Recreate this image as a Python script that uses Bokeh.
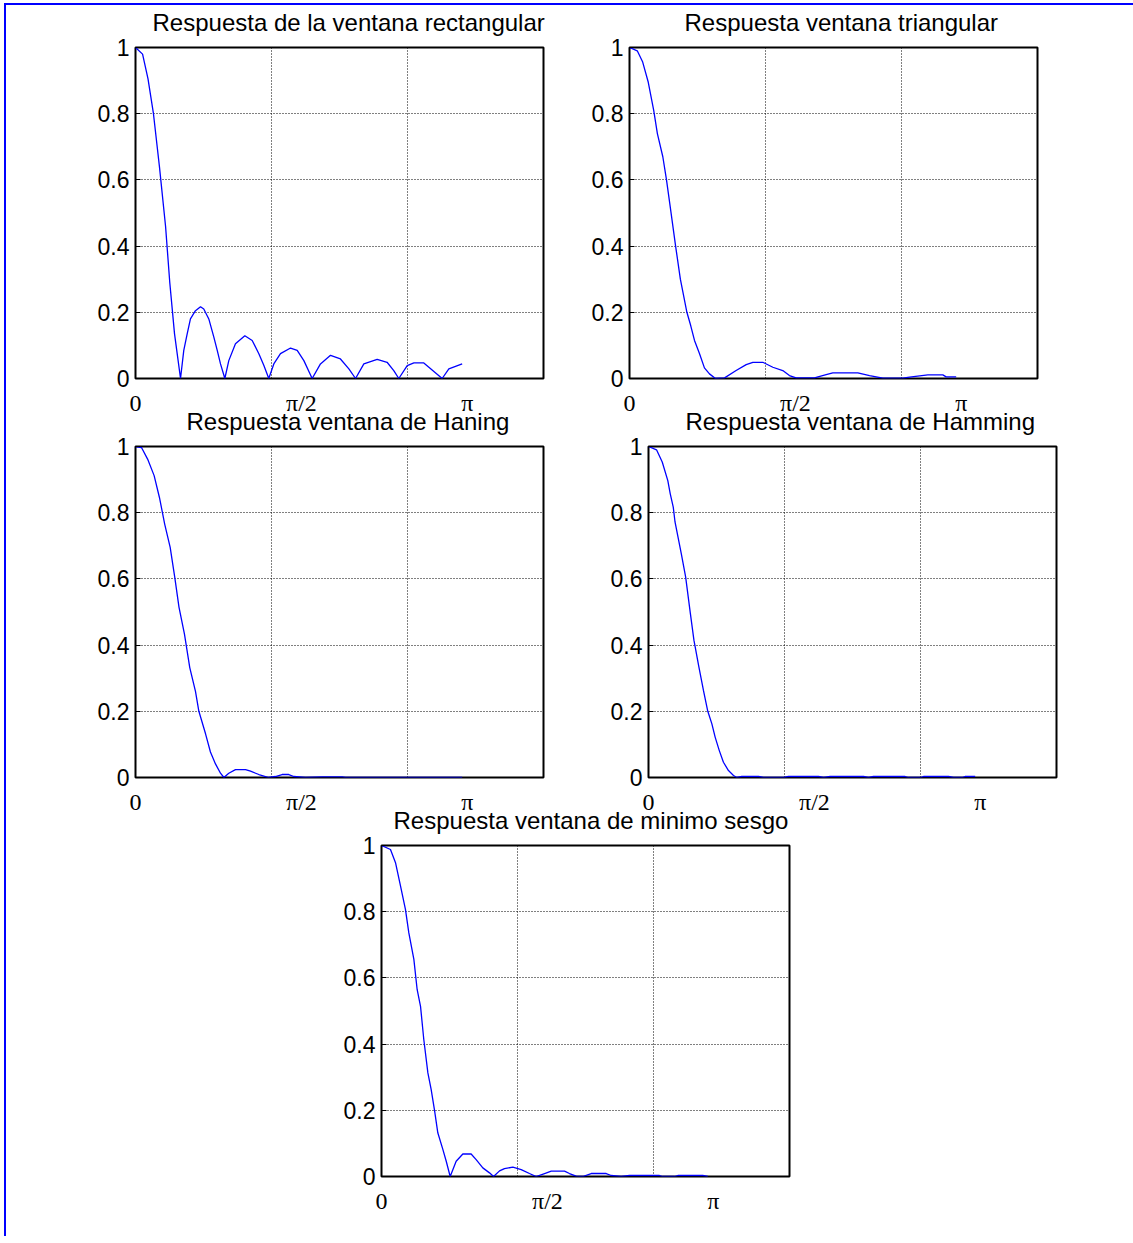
from bokeh.plotting import figure
from bokeh.models import Range1d, FixedTicker
from bokeh.layouts import row, column
from bokeh.embed import file_html
from bokeh.resources import INLINE

# ---------------- data ----------------
titles = [
    "Respuesta de la ventana rectangular",
    "Respuesta ventana triangular",
    "Respuesta ventana de Haning",
    "Respuesta ventana de Hamming",
    "Respuesta ventana de minimo sesgo",
]

y_ticks = [0, 0.2, 0.4, 0.6, 0.8, 1]
y_tick_labels = ["0", "0.2", "0.4", "0.6", "0.8", "1"]
x_tick_pos = [0, 1.22, 2.44]
x_tick_labels = ["0", "π/2", "π"]
x_grid_pos = [1, 2]
y_grid_pos = [0.2, 0.4, 0.6, 0.8]

rect_w = [0, 0.052, 0.092, 0.132, 0.176, 0.221, 0.252, 0.287, 0.331,
          0.355, 0.380, 0.404, 0.441, 0.478, 0.502, 0.539, 0.576, 0.601, 0.625, 0.657,
          0.686, 0.735, 0.804, 0.858, 0.907, 0.944, 0.980,
          1.017, 1.066, 1.140, 1.189, 1.238, 1.299,
          1.360, 1.434, 1.507, 1.569, 1.618,
          1.679, 1.777, 1.850, 1.899, 1.936,
          1.998, 2.047, 2.120, 2.181, 2.255,
          2.304, 2.402]
rect_mag = [1.0, 0.98, 0.905, 0.80, 0.64, 0.46, 0.29, 0.135, 0.0,
            0.085, 0.135, 0.180, 0.205, 0.217, 0.210, 0.180, 0.125, 0.085, 0.044, 0.0,
            0.054, 0.105, 0.129, 0.115, 0.075, 0.039, 0.0,
            0.044, 0.075, 0.092, 0.085, 0.054, 0.0,
            0.044, 0.070, 0.059, 0.029, 0.0,
            0.044, 0.058, 0.049, 0.024, 0.0,
            0.039, 0.047, 0.047, 0.026, 0.0,
            0.029, 0.044]

tri_w = [0, 0.057, 0.097, 0.138, 0.178, 0.205, 0.245, 0.272, 0.299, 0.339, 0.374, 0.422,
         0.450, 0.478, 0.515, 0.551, 0.588, 0.632,
         0.699, 0.784, 0.858, 0.907, 0.980, 1.054, 1.127, 1.176, 1.225,
         1.360, 1.446, 1.495, 1.679, 1.765, 1.863,
         2.010, 2.059, 2.194, 2.304, 2.328, 2.402]
tri_mag = [1.0, 0.99, 0.956, 0.895, 0.81, 0.74, 0.67, 0.60, 0.52, 0.40, 0.30, 0.20,
           0.16, 0.115, 0.075, 0.032, 0.014, 0.0,
           0.002, 0.024, 0.042, 0.049, 0.049, 0.034, 0.024, 0.009, 0.002,
           0.002, 0.012, 0.017, 0.017, 0.009, 0.001,
           0.001, 0.004, 0.011, 0.011, 0.005, 0.005]

hann_w = [0, 0.044, 0.089, 0.137, 0.176, 0.215, 0.255, 0.289, 0.320, 0.360, 0.399,
          0.441, 0.466, 0.515, 0.551, 0.588, 0.625, 0.650,
          0.686, 0.735, 0.809, 0.846, 0.907, 0.980,
          1.029, 1.078, 1.127, 1.164, 1.250,
          1.373, 1.520, 1.544, 2.402]
hann_mag = [1.0, 0.997, 0.962, 0.912, 0.846, 0.765, 0.695, 0.604, 0.514, 0.433, 0.332,
            0.26, 0.20, 0.132, 0.077, 0.041, 0.013, 0.0,
            0.013, 0.024, 0.024, 0.019, 0.009, 0.0,
            0.003, 0.009, 0.009, 0.003, 0.0,
            0.002, 0.002, 0.0, 0.0]

hamm_w = [0, 0.059, 0.101, 0.142, 0.160, 0.182, 0.195, 0.241, 0.273, 0.308, 0.334, 0.370,
          0.404, 0.436, 0.466, 0.490, 0.520, 0.551, 0.588, 0.625, 0.650,
          0.686, 0.809, 0.846, 0.993, 1.029, 1.250, 1.287, 1.336, 1.581, 1.618,
          1.654, 1.887, 1.912, 1.998, 2.022, 2.206, 2.243, 2.304, 2.328, 2.402]
hamm_mag = [1.0, 0.99, 0.953, 0.897, 0.857, 0.817, 0.772, 0.676, 0.606, 0.495, 0.415, 0.335,
            0.263, 0.20, 0.162, 0.122, 0.082, 0.046, 0.021, 0.006, 0.0,
            0.003, 0.003, 0.0, 0.0, 0.003, 0.003, 0.0, 0.003, 0.003, 0.0,
            0.003, 0.003, 0.0, 0.0, 0.003, 0.003, 0.0, 0.0, 0.003, 0.003]

mins_w = [0, 0.066, 0.103, 0.140, 0.176, 0.201, 0.238, 0.262, 0.287, 0.311, 0.341,
          0.365, 0.390, 0.414, 0.451, 0.476, 0.505,
          0.549, 0.598, 0.659, 0.696, 0.745, 0.794, 0.824,
          0.868, 0.904, 0.966, 1.027, 1.088, 1.137,
          1.199, 1.248, 1.346, 1.382, 1.431, 1.480,
          1.542, 1.652, 1.689, 1.762,
          1.824, 2.044, 2.068, 2.154, 2.179, 2.362, 2.399]
mins_mag = [1.0, 0.988, 0.948, 0.877, 0.807, 0.736, 0.656, 0.565, 0.514, 0.414, 0.313,
            0.263, 0.20, 0.132, 0.082, 0.046, 0.0,
            0.046, 0.068, 0.068, 0.051, 0.026, 0.011, 0.0,
            0.017, 0.024, 0.028, 0.021, 0.009, 0.0,
            0.009, 0.016, 0.016, 0.009, 0.001, 0.0,
            0.009, 0.009, 0.003, 0.0,
            0.003, 0.003, 0.0, 0.0, 0.003, 0.003, 0.0]

SANS = "Liberation Sans"
SERIF = "Liberation Serif"

TOP = 54      # space above each frame (title)
BOTTOM = 44   # space below each frame (x tick labels)
FRAME_H = 331


def make_panel(title, title_offset, xs, ys, width, height, bl, br, bt, bb):
    p = figure(width=width, height=height,
               x_range=Range1d(0, 3), y_range=Range1d(0, 1),
               output_backend="svg", toolbar_location=None,
               min_border_left=bl, min_border_right=br,
               min_border_top=bt, min_border_bottom=bb,
               background_fill_color="white", border_fill_color=None)
    p.title.text = title
    p.title.text_font = SANS
    p.title.text_font_style = "normal"
    p.title.text_font_size = "24px"
    p.title.text_color = "black"
    p.title.align = "left"
    p.title.offset = title_offset
    p.title.standoff = 23

    p.outline_line_color = "black"
    p.outline_line_width = 2
    p.outline_line_alpha = 1

    # grid
    p.xgrid.ticker = FixedTicker(ticks=x_grid_pos)
    p.ygrid.ticker = FixedTicker(ticks=y_grid_pos)
    for g in (p.xgrid, p.ygrid):
        g.grid_line_color = "black"
        g.grid_line_dash = "1 2"
        g.grid_line_width = 1
        g.grid_line_alpha = 1

    # x axis
    p.xaxis.ticker = FixedTicker(ticks=x_tick_pos)
    p.xaxis.major_label_overrides = {k: v for k, v in zip(x_tick_pos, x_tick_labels)}
    p.xaxis.major_tick_line_color = None
    p.xaxis.minor_tick_line_color = None
    p.xaxis.axis_line_color = None
    p.xaxis.major_label_text_font = SERIF
    p.xaxis.major_label_text_font_size = "24px"
    p.xaxis.major_label_text_color = "black"
    p.xaxis.major_label_standoff = 5

    # y axis
    p.yaxis.ticker = FixedTicker(ticks=y_ticks)
    p.yaxis.major_label_overrides = {k: v for k, v in zip(y_ticks, y_tick_labels)}
    p.yaxis.major_tick_in = 5
    p.yaxis.major_tick_out = 0
    p.yaxis.major_tick_line_color = "black"
    p.yaxis.minor_tick_line_color = None
    p.yaxis.axis_line_color = None
    p.yaxis.major_label_text_font = SANS
    p.yaxis.major_label_text_font_size = "23px"
    p.yaxis.major_label_text_color = "black"
    p.yaxis.major_label_standoff = 6

    p.line(xs, ys, line_color="#0000ff", line_width=1.3)
    return p


H = TOP + FRAME_H + BOTTOM
p1 = make_panel(titles[0], 17, rect_w, rect_mag, 539, H, 129, 2, TOP, BOTTOM)
p2 = make_panel(titles[1], 55, tri_w, tri_mag, 588, H, 84, 96, TOP, BOTTOM)
p3 = make_panel(titles[2], 51, hann_w, hann_mag, 539, H, 129, 2, TOP, BOTTOM)
p4 = make_panel(titles[3], 37, hamm_w, hamm_mag, 588, H, 103, 77, TOP, BOTTOM)
p5 = make_panel(titles[4], 12, mins_w, mins_mag, 1127, TOP + FRAME_H + 60, 375, 344, TOP, 60)

overlap = TOP + BOTTOM - 68
r1 = row(p1, p2, styles={"margin-top": f"-{TOP - 42}px"})
r2 = row(p3, p4, styles={"margin-top": f"-{overlap}px"})
r3 = row(p5, styles={"margin-top": f"-{overlap}px"})

layout = column(
    r1, r2, r3,
    styles={"margin-left": "4px", "margin-top": "3px",
            "border-left": "2px solid #0000ff", "border-top": "2px solid #0000ff"},
)

open("out.html", "w").write(file_html(layout, INLINE))
